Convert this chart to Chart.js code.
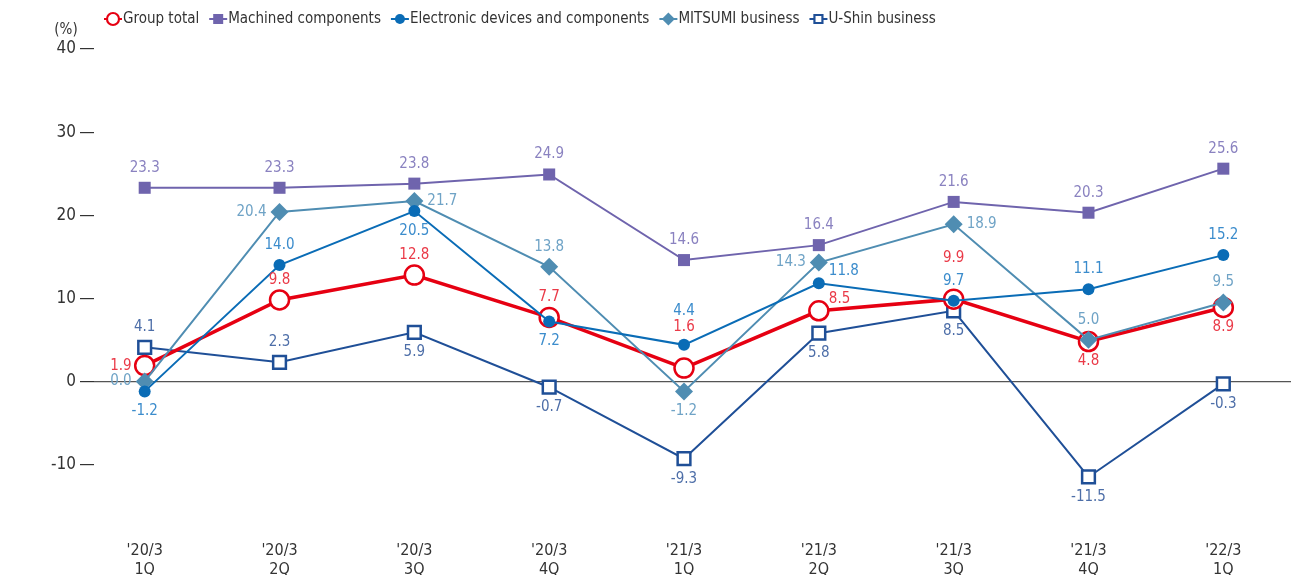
<!DOCTYPE html>
<html>
<head>
<meta charset="utf-8">
<script src="https://cdn.jsdelivr.net/npm/chart.js@4/dist/chart.umd.min.js"></script>
<style>
  html, body { margin: 0; padding: 0; background: #fff; }
  #wrap { width: 1303px; height: 575px; position: relative; }
</style>
</head>
<body>
<div id="wrap"><canvas id="c" width="1303" height="575"></canvas></div>
<script>
// ---- data ----
const categories = [["'20/3", "1Q"], ["'20/3", "2Q"], ["'20/3", "3Q"], ["'20/3", "4Q"], ["'21/3", "1Q"], ["'21/3", "2Q"], ["'21/3", "3Q"], ["'21/3", "4Q"], ["'22/3", "1Q"]];
const groupTotal  = [1.9, 9.8, 12.8, 7.7, 1.6, 8.5, 9.9, 4.8, 8.9];
const machined    = [23.3, 23.3, 23.8, 24.9, 14.6, 16.4, 21.6, 20.3, 25.6];
const electronic  = [-1.2, 14.0, 20.5, 7.2, 4.4, 11.8, 9.7, 11.1, 15.2];
const mitsumi     = [0.0, 20.4, 21.7, 13.8, -1.2, 14.3, 18.9, 5.0, 9.5];
const ushin       = [4.1, 2.3, 5.9, -0.7, -9.3, 5.8, 8.5, -11.5, -0.3];
const yTicks      = [-10, 0, 10, 20, 30, 40];
const seriesNames = ["Group total", "Machined components", "Electronic devices and components", "MITSUMI business", "U-Shin business"];

// ---- styles ----
const FONT = "'Liberation Sans Narrow', 'DejaVu Sans Condensed', sans-serif";
const pts = arr => arr.map((v, i) => ({x: i, y: v}));

// label placement codes (a=above, aa=far above, b=below, l=left, r=right, ra=right-above)
const placeGroup = ['l','a','a','a','aa','ra','aa','b','b'];
const placeMach  = ['a','a','a','a','a','a','a','a','a'];
const placeElec  = ['b','a','b','b','a2','ra','a','a','a'];
const placeMits  = ['l','l','r','a','b','l','r','a','a'];
const placeUshin = ['a','a','b','b','b','b','b','b','b'];

const datasets = [
  { label: seriesNames[0], data: pts(groupTotal), borderColor: '#e60012', backgroundColor: '#ffffff',
    borderWidth: 3.5, pointStyle: 'circle', pointRadius: 9.5, pointBorderWidth: 2.5, pointBackgroundColor: '#fff',
    order: 3, labelColor: '#ea3a48', place: placeGroup, legendStyle: 'circleOpen' },
  { label: seriesNames[1], data: pts(machined), borderColor: '#6f64ad', backgroundColor: '#6f64ad',
    borderWidth: 2, pointStyle: 'rect', pointRadius: 8.5, pointBorderWidth: 0, pointBackgroundColor: '#6f64ad',
    order: 4, labelColor: '#8a82c0', place: placeMach, legendStyle: 'rect' },
  { label: seriesNames[2], data: pts(electronic), borderColor: '#0a6cb6', backgroundColor: '#0a6cb6',
    borderWidth: 2, pointStyle: 'circle', pointRadius: 6, pointBorderWidth: 0, pointBackgroundColor: '#0a6cb6',
    order: 1, labelColor: '#3b8ccc', place: placeElec, legendStyle: 'circle' },
  { label: seriesNames[3], data: pts(mitsumi), borderColor: '#4f8db2', backgroundColor: '#4f8db2',
    borderWidth: 2, pointStyle: 'rectRot', pointRadius: 9, pointBorderWidth: 0, pointBackgroundColor: '#4f8db2',
    order: 2, labelColor: '#6fa3c6', place: placeMits, legendStyle: 'diamond' },
  { label: seriesNames[4], data: pts(ushin), borderColor: '#1f4f97', backgroundColor: '#fff',
    borderWidth: 2, pointStyle: 'rect', pointRadius: 9, pointBorderWidth: 2.5, pointBackgroundColor: '#fff',
    order: 5, labelColor: '#4d6ea8', place: placeUshin, legendStyle: 'rectOpen' }
];
datasets.forEach(d => { d.pointHoverRadius = d.pointRadius; d.tension = 0; d.fill = false; d.clip = false; });

function drawMarker(ctx, style, x, y, color, r) {
  ctx.save();
  ctx.fillStyle = color; ctx.strokeStyle = color;
  ctx.beginPath();
  if (style === 'circleOpen') {
    ctx.arc(x, y, r, 0, Math.PI * 2); ctx.fillStyle = '#fff'; ctx.fill(); ctx.lineWidth = 2.2; ctx.stroke();
  } else if (style === 'circle') {
    ctx.arc(x, y, r, 0, Math.PI * 2); ctx.fill();
  } else if (style === 'rect') {
    ctx.rect(x - r, y - r, 2 * r, 2 * r); ctx.fill();
  } else if (style === 'rectOpen') {
    ctx.rect(x - r + 1, y - r + 1, 2 * r - 2, 2 * r - 2); ctx.fillStyle = '#fff'; ctx.fill(); ctx.lineWidth = 2.2; ctx.stroke();
  } else if (style === 'diamond') {
    const d = r * 1.3;
    ctx.moveTo(x, y - d); ctx.lineTo(x + d, y); ctx.lineTo(x, y + d); ctx.lineTo(x - d, y); ctx.closePath(); ctx.fill();
  }
  ctx.restore();
}

const extrasPlugin = {
  id: 'extras',
  afterDatasetsDraw(chart) {
    const ctx = chart.ctx;
    ctx.save();
    ctx.font = '15px ' + FONT;
    chart.data.datasets.forEach((ds, di) => {
      const meta = chart.getDatasetMeta(di);
      meta.data.forEach((el, i) => {
        const v = ds.data[i].y;
        const txt = v.toFixed(1);
        const p = ds.place[i];
        let x = el.x, y = el.y, align = 'center';
        if (p === 'a') { y -= 20; }
        else if (p === 'aa') { y -= 41; }
        else if (p === 'a2') { y -= 34; }
        else if (p === 'b') { y += 20; }
        else if (p === 'l') { x -= 13; align = 'right'; }
        else if (p === 'r') { x += 13; align = 'left'; }
        else if (p === 'ra') { x += 10; y -= 12; align = 'left'; }
        ctx.fillStyle = ds.labelColor;
        ctx.textAlign = align; ctx.textBaseline = 'middle';
        ctx.fillText(txt, x, y);
      });
    });
    ctx.restore();
  },
  afterDraw(chart) {
    const ctx = chart.ctx;
    ctx.save();
    ctx.font = '15px ' + FONT;
    ctx.fillStyle = '#333';
    ctx.textAlign = 'center'; ctx.textBaseline = 'middle';
    ctx.fillText('(%)', 66, 30);
    // legend
    ctx.font = '15px ' + FONT;
    ctx.textAlign = 'left';
    let x = 104;
    const y = 19;
    chart.data.datasets.forEach(ds => {
      ctx.strokeStyle = ds.borderColor; ctx.lineWidth = 2;
      ctx.beginPath(); ctx.moveTo(x, y); ctx.lineTo(x + 18, y); ctx.stroke();
      const r = ds.legendStyle === 'circleOpen' ? 6 : 5;
      drawMarker(ctx, ds.legendStyle, x + 9, y, ds.borderColor, r);
      ctx.fillStyle = '#333';
      ctx.fillText(ds.label, x + 19, y);
      x += 19 + ctx.measureText(ds.label).width + 10;
    });
    ctx.restore();
  }
};

new Chart(document.getElementById('c'), {
  type: 'line',
  data: { datasets },
  plugins: [extrasPlugin],
  options: {
    responsive: false,
    animation: false,
    events: [],
    layout: { padding: { left: 0, right: 6, top: 49, bottom: 0 } },
    plugins: { legend: { display: false }, tooltip: { enabled: false } },
    scales: {
      x: {
        type: 'linear',
        min: -0.376, max: 8.502,
        afterBuildTicks: s => { s.ticks = categories.map((c, i) => ({ value: i })); },
        afterFit: s => { s.height = 44; },
        ticks: {
          autoSkip: false, maxRotation: 0, padding: 2,
          color: '#333', font: { family: FONT, size: 16 }, lineHeight: 1.3,
          callback: v => categories[v]
        },
        grid: { display: false },
        border: { display: false }
      },
      y: {
        min: -18, max: 40,
        afterBuildTicks: s => { s.ticks = yTicks.map(v => ({ value: v })); },
        afterFit: s => { s.width = 94; },
        ticks: { color: '#333', font: { family: FONT, size: 17 }, padding: 4 },
        grid: {
          drawOnChartArea: true,
          color: c => (c.tick && c.tick.value === 0) ? '#555' : 'rgba(0,0,0,0)',
          tickColor: '#333',
          tickLength: 14,
          lineWidth: 1.2
        },
        border: { display: false }
      }
    }
  }
});
</script>
</body>
</html>
